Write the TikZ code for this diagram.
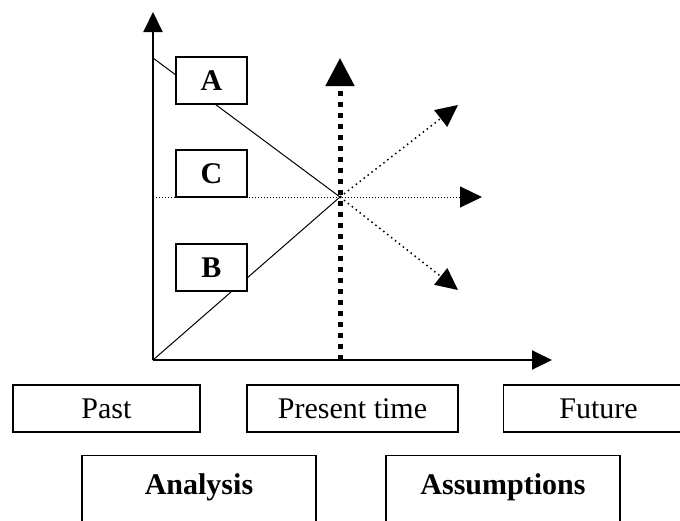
\documentclass[tikz,border=0pt]{standalone}
\usepackage{fontspec}
\setmainfont{Liberation Serif}
\usetikzlibrary{arrows.meta}

\begin{document}
\begin{tikzpicture}[x=1pt, y=-1pt, thick]
        \tikzstyle{letterbox}=[rectangle,draw=black,fill=white,line width=1.2pt,minimum width=71pt,minimum height=47pt,inner sep=0pt,font=\fontsize{30}{32}\selectfont\bfseries]
        \tikzstyle{timebox}=[rectangle,draw=black,line width=1.2pt,minimum height=47pt,inner sep=0pt,font=\fontsize{30}{32}\selectfont]
        \tikzstyle{bigbox}=[rectangle,draw=black,line width=1.2pt,minimum width=234pt,minimum height=120pt,inner sep=0pt,anchor=north]
        \tikzstyle{axis}=[line width=2pt,-{Triangle[length=20pt,width=19pt]}]
        \tikzstyle{trend}=[line width=1pt]
        \tikzstyle{forecast}=[line width=1.5pt,dash pattern=on 1.5pt off 3.5pt,-{Triangle[length=22pt,width=21pt]}]

        \clip (0,0) rectangle (680,520);

        \coordinate (origin) at (153,360);
        \coordinate (ytop) at (153,12);
        \coordinate (xend) at (552,360);
        \coordinate (now) at (340,197);
        \coordinate (nowbase) at (340,360);
        \coordinate (nowtop) at (340,58);
        \coordinate (astart) at (153,58);
        \coordinate (cstart) at (153,197);
        \coordinate (cend) at (482,197);
        \coordinate (upend) at (458,105);
        \coordinate (downend) at (458,290);

        % axes
        \draw[axis] (origin) -- (ytop);
        \draw[axis] (origin) -- (xend);

        % trends A and B
        \draw[trend] (astart) -- (now);
        \draw[trend] (origin) -- (now);

        % present time
        \draw[line width=5pt, dash pattern=on 5pt off 6pt, -{Triangle[length=28pt,width=28pt]}] (nowbase) -- (nowtop);

        % trend C and forecasts
        \draw[line width=1pt, dash pattern=on 1pt off 2pt, -{Triangle[length=22pt,width=21pt]}] (cstart) -- (cend);
        \draw[forecast] (now) -- (upend);
        \draw[forecast] (now) -- (downend);

        \node[letterbox] (a) at (211.5,80.5) {A};
        \node[letterbox] (c) at (211.5,173.5) {C};
        \node[letterbox] (b) at (211.5,267.5) {B};

        \node[timebox, minimum width=187pt] (past) at (106.5,408.5) {Past};
        \node[timebox, minimum width=211pt] (present) at (352.5,408.5) {Present time};
        \node[timebox, minimum width=190pt, anchor=west] (future) at (503,408.5) {Future};

        \node[bigbox, label={[anchor=north,inner sep=0pt,yshift=-18pt,font=\fontsize{30}{32}\selectfont\bfseries]north:Analysis}] (analysis) at (199,455) {};
        \node[bigbox, label={[anchor=north,inner sep=0pt,yshift=-18pt,font=\fontsize{30}{32}\selectfont\bfseries]north:Assumptions}] (assumptions) at (503,455) {};
\end{tikzpicture}
\end{document}
